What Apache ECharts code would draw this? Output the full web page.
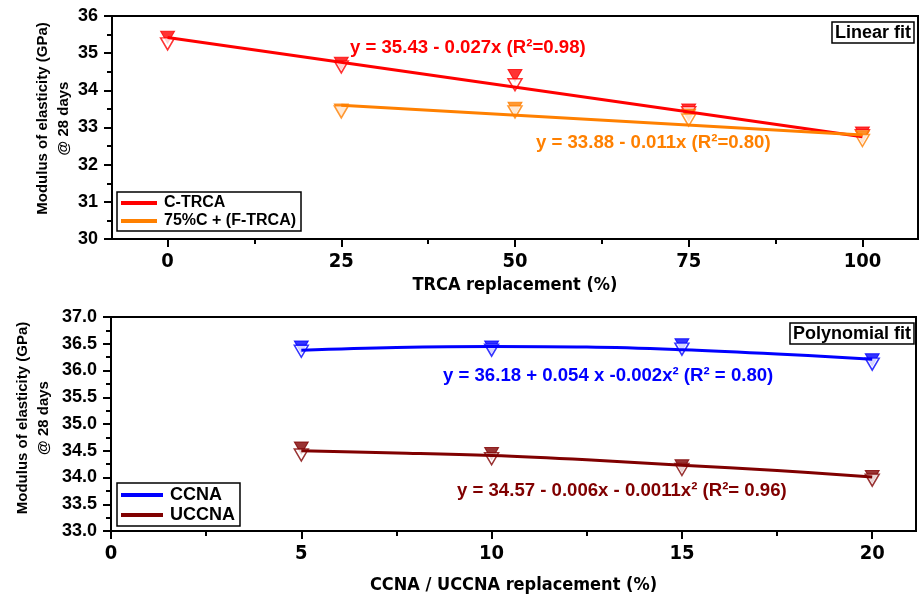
<!DOCTYPE html>
<html><head><meta charset="utf-8">
<script src="https://cdn.jsdelivr.net/npm/echarts@6/dist/echarts.min.js"></script>
<style>html,body{margin:0;padding:0;background:#fff}#c{width:922px;height:600px}</style>
</head><body><div id="c"></div>
<script>
// ---- Top panel (Linear fit) ----
const trcaX = [0, 25, 50, 75, 100];
const trcaTicks = [0, 25, 50, 75, 100];
const trcaMinor = [12.5, 37.5, 62.5, 87.5];
const ctrcaA = [35.43, 34.73, 34.40, 33.47, 32.85];
const ctrcaB = [35.25, 34.63, 34.15, 33.40, 32.78];
const ftrcaX = [25, 50, 75, 100];
const ftrcaA = [33.47, 33.52, 33.33, 32.75];
const ftrcaB = [33.42, 33.42, 33.20, 32.65];
const ctrcaFitX = [0, 100];
const ctrcaFitY = [35.42, 32.75];
const ftrcaFitX = [25, 100];
const ftrcaFitY = [33.60, 32.80];

// ---- Bottom panel (Polynomial fit) ----
const ccnaX = [5, 10, 15, 20];
const ccnaTicks = [0, 5, 10, 15, 20];
const ccnaMinor = [2.5, 7.5, 12.5, 17.5];
const ccnaA = [36.44, 36.44, 36.48, 36.20];
const ccnaB = [36.36, 36.38, 36.40, 36.12];
const uccnaA = [34.55, 34.45, 34.22, 34.02];
const uccnaB = [34.42, 34.35, 34.15, 33.95];
const fitX = [5, 7.5, 10, 12.5, 15, 17.5, 20];
const ccnaFitY = [36.38, 36.43, 36.45, 36.44, 36.39, 36.31, 36.21];
const uccnaFitY = [34.50, 34.46, 34.41, 34.33, 34.23, 34.13, 34.01];

const C_RED = '#ff0000', C_ORG = '#ff8000', C_BLUE = '#0000ff', C_DRED = '#800000';
const NARROW = "'Liberation Sans Narrow','Arial Narrow','DejaVu Sans Condensed',sans-serif";
const SANS = "'Liberation Sans',Arial,sans-serif";
const EQFONT = "bold 18.6px 'Liberation Sans',Arial,sans-serif";

function pairs(xs, ys) { return xs.map((x, i) => [x, ys[i]]); }

function markers(name, xs, ys, color, filled, xi) {
  return {
    type: 'scatter', name: name, xAxisIndex: xi, yAxisIndex: xi >= 2 ? 1 : 0,
    data: pairs(xs, ys), symbol: 'triangle', symbolRotate: 180, symbolSize: [14, 12],
    itemStyle: filled ? { color: color, borderColor: color, borderWidth: 1 }
                      : { color: '#fff', borderColor: color, borderWidth: 1.5 },
    z: 3, silent: true
  };
}
function fitLine(name, xs, ys, color, xi, smooth) {
  return {
    type: 'line', name: name, xAxisIndex: xi, yAxisIndex: xi >= 2 ? 1 : 0,
    data: pairs(xs, ys), showSymbol: false, smooth: smooth ? 0.4 : false,
    lineStyle: { color: color, width: 3 }, itemStyle: { color: color }, z: 4, silent: true
  };
}

const tickLabelX = { fontFamily: NARROW, fontWeight: 'bold', fontSize: 20, color: '#000', margin: 13 };
const tickLabelY = { fontFamily: SANS, fontWeight: 'bold', fontSize: 18, color: '#000', margin: 14 };
const axLine = { show: true, onZero: false, lineStyle: { color: '#000', width: 2 } };
const boxTitle = { fontFamily: SANS, fontWeight: 'bold', fontSize: 18, color: '#000' };
const yName = { fontFamily: SANS, fontWeight: 'bold', fontSize: 15, color: '#000', lineHeight: 21 };

const chart = echarts.init(document.getElementById('c'));
chart.setOption({
  animation: false,
  grid: [
    { left: 112, top: 16, right: 4, height: 223, show: true, borderColor: '#000', borderWidth: 2,
      backgroundColor: 'transparent', containLabel: false, outerBoundsMode: 'none' },
    { left: 111, top: 317, right: 6, height: 214, show: true, borderColor: '#000', borderWidth: 2,
      backgroundColor: 'transparent', containLabel: false, outerBoundsMode: 'none' }
  ],
  title: [
    { text: 'Linear fit', right: 8, top: 22, borderColor: '#000', borderWidth: 1.5, padding: [2, 3, 1, 3], textStyle: boxTitle },
    { text: 'Polynomial fit', right: 8, top: 323, borderColor: '#000', borderWidth: 1.5, padding: [2, 3, 1, 3], textStyle: boxTitle }
  ],
  legend: [
    { data: ['C-TRCA', '75%C + (F-TRCA)'], orient: 'vertical', left: 117, top: 192, icon: 'rect',
      itemWidth: 36, itemHeight: 4, itemGap: 2, padding: [3, 5, 2, 4], borderColor: '#000', borderWidth: 1.5,
      selectedMode: false,
      textStyle: { fontFamily: SANS, fontWeight: 'bold', fontSize: 16, color: '#000', padding: [0, 0, 0, 2] } },
    { data: ['CCNA', 'UCCNA'], orient: 'vertical', left: 117, top: 483, icon: 'rect',
      itemWidth: 42, itemHeight: 4, itemGap: 2, padding: [3, 5, 2, 4], borderColor: '#000', borderWidth: 1.5,
      selectedMode: false,
      textStyle: { fontFamily: SANS, fontWeight: 'bold', fontSize: 18, color: '#000', padding: [0, 0, 0, 2] } }
  ],
  xAxis: [
    { type: 'value', gridIndex: 0, min: -8, max: 108, splitLine: { show: false }, axisLine: axLine,
      axisTick: { show: true, length: 8, lineStyle: { width: 2, color: '#000' }, customValues: trcaTicks },
      axisLabel: Object.assign({ customValues: trcaTicks }, tickLabelX),
      name: 'TRCA replacement (%)', nameLocation: 'middle', nameGap: 37,
      nameTextStyle: { fontFamily: NARROW, fontWeight: 'bold', fontSize: 18, color: '#000' } },
    { type: 'value', gridIndex: 0, min: -8, max: 108, position: 'bottom', splitLine: { show: false },
      axisLine: { show: false, onZero: false }, axisLabel: { show: false },
      axisTick: { show: true, length: 5, lineStyle: { width: 2, color: '#000' }, customValues: trcaMinor } },
    { type: 'value', gridIndex: 1, min: 0, max: 21.15, splitLine: { show: false }, axisLine: axLine,
      axisTick: { show: true, length: 8, lineStyle: { width: 2, color: '#000' }, customValues: ccnaTicks },
      axisLabel: Object.assign({ customValues: ccnaTicks }, tickLabelX),
      name: 'CCNA / UCCNA replacement (%)', nameLocation: 'middle', nameGap: 45,
      nameTextStyle: { fontFamily: NARROW, fontWeight: 'bold', fontSize: 18, color: '#000' } },
    { type: 'value', gridIndex: 1, min: 0, max: 21.15, position: 'bottom', splitLine: { show: false },
      axisLine: { show: false, onZero: false }, axisLabel: { show: false },
      axisTick: { show: true, length: 5, lineStyle: { width: 2, color: '#000' }, customValues: ccnaMinor } }
  ],
  yAxis: [
    { type: 'value', gridIndex: 0, min: 30, max: 36, interval: 1, splitLine: { show: false }, axisLine: axLine,
      axisTick: { show: true, length: 8, lineStyle: { width: 2, color: '#000' } },
      minorTick: { show: true, splitNumber: 2, length: 5, lineStyle: { width: 2, color: '#000' } },
      axisLabel: Object.assign({}, tickLabelY),
      name: 'Modulus of elasticity (GPa)\n@ 28 days', nameLocation: 'middle', nameGap: 38, nameRotate: 90,
      nameMoveOverlap: false,
      nameTextStyle: Object.assign({ padding: [0, 0, 0, 18] }, yName) },
    { type: 'value', gridIndex: 1, min: 33, max: 37, interval: 0.5, splitLine: { show: false }, axisLine: axLine,
      axisTick: { show: true, length: 8, lineStyle: { width: 2, color: '#000' } },
      minorTick: { show: true, splitNumber: 2, length: 5, lineStyle: { width: 2, color: '#000' } },
      axisLabel: Object.assign({ formatter: v => v.toFixed(1) }, tickLabelY),
      name: 'Modulus of elasticity (GPa)\n@ 28 days', nameLocation: 'middle', nameGap: 57, nameRotate: 90,
      nameMoveOverlap: false,
      nameTextStyle: Object.assign({ padding: [0, 0, 0, 12] }, yName) }
  ],
  graphic: [
    { type: 'text', left: 350, top: 38, style: { text: 'y = 35.43 - 0.027x (R²=0.98)', fill: C_RED, font: EQFONT } },
    { type: 'text', left: 536, top: 133, style: { text: 'y = 33.88 - 0.011x (R²=0.80)', fill: C_ORG, font: EQFONT } },
    { type: 'text', left: 443, top: 366, style: { text: 'y = 36.18 + 0.054 x -0.002x² (R² = 0.80)', fill: C_BLUE, font: EQFONT } },
    { type: 'text', left: 457, top: 481, style: { text: 'y = 34.57 - 0.006x - 0.0011x² (R²= 0.96)', fill: C_DRED, font: EQFONT } }
  ],
  series: [
    fitLine('C-TRCA', ctrcaFitX, ctrcaFitY, C_RED, 0, false),
    fitLine('75%C + (F-TRCA)', ftrcaFitX, ftrcaFitY, C_ORG, 0, false),
    markers('ctrca-a', trcaX, ctrcaA, C_RED, true, 0),
    markers('ctrca-b', trcaX, ctrcaB, C_RED, false, 0),
    markers('ftrca-a', ftrcaX, ftrcaA, C_ORG, true, 0),
    markers('ftrca-b', ftrcaX, ftrcaB, C_ORG, false, 0),
    fitLine('CCNA', fitX, ccnaFitY, C_BLUE, 2, true),
    fitLine('UCCNA', fitX, uccnaFitY, C_DRED, 2, true),
    markers('ccna-a', ccnaX, ccnaA, C_BLUE, true, 2),
    markers('ccna-b', ccnaX, ccnaB, C_BLUE, false, 2),
    markers('uccna-a', ccnaX, uccnaA, C_DRED, true, 2),
    markers('uccna-b', ccnaX, uccnaB, C_DRED, false, 2)
  ]
});
</script></body></html>
